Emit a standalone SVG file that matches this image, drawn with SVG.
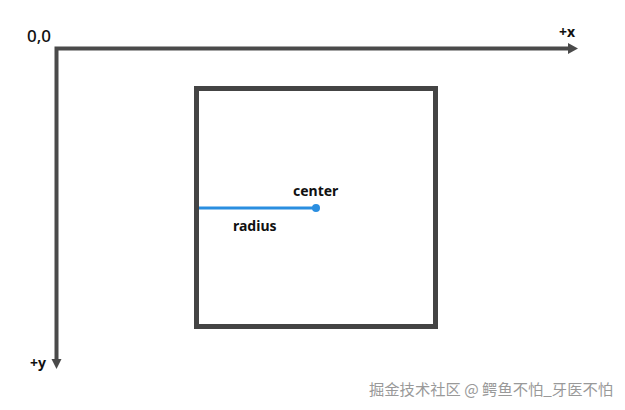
<svg xmlns="http://www.w3.org/2000/svg" width="625" height="410" viewBox="0 0 625 410">
<defs>
<style>
.lbl{font-family:"Noto Sans","DejaVu Sans",sans-serif;font-size:14px;font-weight:bold;fill:#111}
.axis{stroke:#4a4a4a;stroke-width:4;fill:none}
.wm{font-family:"Noto Sans CJK SC","Noto Sans",sans-serif;font-size:15.3px;fill:#999}
</style>
</defs>
<rect width="625" height="410" fill="#fff"/>
<g id="connectors">
<path class="axis" d="M56.5 360 V48.5 H569"/>
<polygon points="568,43 578,48.5 568,54" fill="#4a4a4a"/>
<polygon points="51.5,359 61.5,359 56.5,369" fill="#4a4a4a"/>
</g>
<g id="labels">
<text class="lbl" x="27" y="42" style="font-size:17px;font-weight:500">0,0</text>
<text class="lbl" x="559" y="37">+x</text>
<text class="lbl" x="30" y="368">+y</text>
</g>
<g id="square">
<rect x="196.5" y="88.5" width="239" height="238" fill="none" stroke="#444" stroke-width="5"/>
</g>
<g id="radius">
<line x1="199" y1="208" x2="316" y2="208" stroke="#2a8ee0" stroke-width="3"/>
<circle cx="316" cy="208" r="4" fill="#2a8ee0"/>
<text class="lbl" x="293" y="196">center</text>
<text class="lbl" x="233" y="231">radius</text>
</g>
<text class="wm" x="369" y="395">掘金技术社区 @ 鳄鱼不怕_牙医不怕</text>
</svg>
